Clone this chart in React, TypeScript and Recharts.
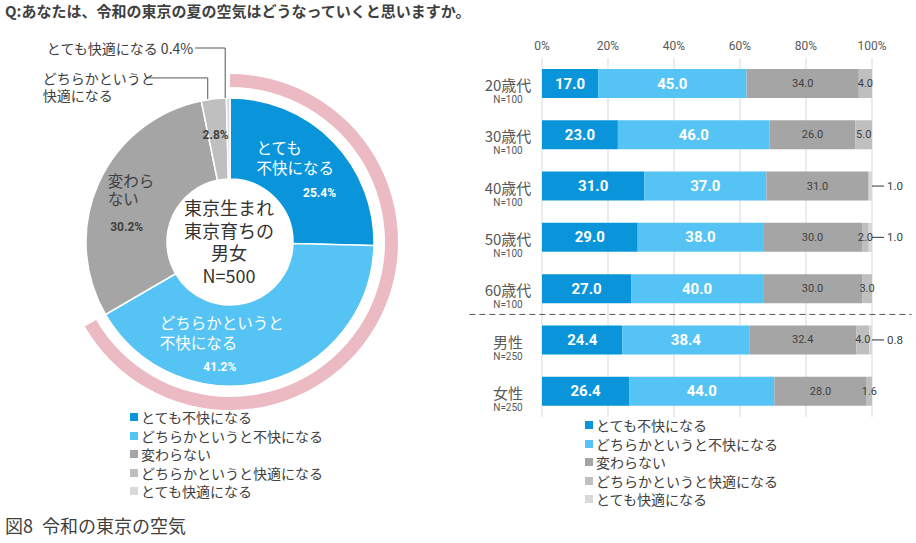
import React from 'react';
import {
  PieChart, Pie, Cell, Legend,
  BarChart, Bar, XAxis, YAxis, CartesianGrid, LabelList, ReferenceLine,
} from 'recharts';

// answer options (shared by both charts)
const answers = ['とても不快になる', 'どちらかというと不快になる', '変わらない', 'どちらかというと快適になる', 'とても快適になる'];
const colors = ['#0A95DA', '#55C4F5', '#A5A5A5', '#BFBFBF', '#D9D9D9'];

// pie: all respondents (N=500), %
const totalShares = [25.4, 41.2, 30.2, 2.8, 0.4];
const centerLines = ['東京生まれ', '東京育ちの', '男女', 'N=500'];

// bars: by age / gender, %
const groups = ['20歳代', '30歳代', '40歳代', '50歳代', '60歳代', '男性', '女性'];
const sampleSizes = ['N=100', 'N=100', 'N=100', 'N=100', 'N=100', 'N=250', 'N=250'];
const veryUncomfortable = [17.0, 23.0, 31.0, 29.0, 27.0, 24.4, 26.4];
const ratherUncomfortable = [45.0, 46.0, 37.0, 38.0, 40.0, 38.4, 44.0];
const noChange = [34.0, 26.0, 31.0, 30.0, 30.0, 32.4, 28.0];
const ratherComfortable = [4.0, 5.0, 0, 2.0, 3.0, 4.0, 1.6];
const veryComfortable = [0, 0, 1.0, 1.0, 0, 0.8, 0];
const percentTicks = [0, 20, 40, 60, 80, 100];

const pieData = answers.map((name, i) => ({ name, value: totalShares[i] }));
// pink ring around the two "uncomfortable" answers
const ringData = [
  { name: '不快', value: totalShares[0] + totalShares[1] },
  { name: 'その他', value: totalShares[2] + totalShares[3] + totalShares[4] },
];

const barData = groups.map((name, i) => ({
  name,
  a: veryUncomfortable[i],
  b: ratherUncomfortable[i],
  c: noChange[i],
  d: ratherComfortable[i],
  e: veryComfortable[i],
}));

const JP = "'Noto Sans CJK JP', sans-serif";
const NUM = "Roboto, 'Noto Sans CJK JP', sans-serif";
const TXT = '#404040';
const RAD = Math.PI / 180;

const LegendList = ({ payload }: any) => {
  const items = (payload || [])
    .filter((p: any) => answers.includes(p.value))
    .sort((x: any, y: any) => answers.indexOf(x.value) - answers.indexOf(y.value));
  return (
    <div style={{ fontFamily: JP, fontSize: 14, color: TXT }}>
      {items.map((p: any) => (
        <div key={p.value} style={{ display: 'flex', alignItems: 'center', height: 18.5 }}>
          <span style={{ width: 8, height: 8, background: colors[answers.indexOf(p.value)], marginRight: 3, display: 'inline-block' }} />
          <span>{p.value}</span>
        </div>
      ))}
    </div>
  );
};

const pieLabel = (p: any) => {
  const { cx, cy, midAngle, outerRadius, index, value } = p;
  const pt = (r: number) => ({
    x: cx + r * Math.cos(-midAngle * RAD),
    y: cy + r * Math.sin(-midAngle * RAD),
  });
  const pct = `${value.toFixed(1)}%`;
  const t = (x: number, y: number, s: string, o: any = {}) => (
    <text key={s + x} x={x} y={y} dominantBaseline="central" fontFamily={JP} fontSize={15.5} fill={TXT} {...o}>{s}</text>
  );
  const pctStyle = { fontSize: 12, fontWeight: 700, fontFamily: NUM, textAnchor: 'middle' };
  if (index === 0) {
    const c = pt(100);
    return (
      <g>
        {t(c.x - 45, c.y - 25, 'とても', { fill: '#fff' })}
        {t(c.x - 45, c.y - 5, '不快になる', { fill: '#fff' })}
        {t(c.x + 18, c.y + 21, pct, { ...pctStyle, fill: '#fff' })}
        {centerLines.map((s, i) => t(cx - 1, cy - 35 + i * 22.5, s, { fontSize: 18, fill: '#333', textAnchor: 'middle' }))}
      </g>
    );
  }
  if (index === 1) {
    const c = pt(100);
    return (
      <g>
        {t(c.x - 95, c.y - 17, 'どちらかというと', { fill: '#fff' })}
        {t(c.x - 95, c.y + 3, '不快になる', { fill: '#fff' })}
        {t(c.x - 35, c.y + 28, pct, { ...pctStyle, fill: '#fff' })}
      </g>
    );
  }
  if (index === 2) {
    const c = pt(100);
    return (
      <g>
        {t(c.x - 31, c.y - 21, '変わら')}
        {t(c.x - 31, c.y - 3, 'ない')}
        {t(c.x - 12, c.y + 26, pct, pctStyle)}
      </g>
    );
  }
  const o = pt(outerRadius);
  if (index === 3) {
    const c = pt(110);
    return (
      <g>
        {t(c.x - 2, c.y + 2, pct, pctStyle)}
        <path d={`M${o.x - 6},${o.y} V${o.y - 21} H${o.x - 66}`} stroke="#555" fill="none" />
        {t(o.x - 171, o.y - 21, 'どちらかというと', { fontSize: 14 })}
        {t(o.x - 171, o.y - 4, '快適になる', { fontSize: 14 })}
      </g>
    );
  }
  return (
    <g>
      <path d={`M${o.x - 3},${o.y} V${o.y - 50} H${o.x - 33}`} stroke="#555" fill="none" />
      {t(o.x - 35, o.y - 50, `${answers[4]} ${pct}`, { fontSize: 14, textAnchor: 'end' })}
    </g>
  );
};

const GroupTick = (p: any) => {
  const { x, y, payload } = p;
  const i = groups.indexOf(payload.value);
  return (
    <g>
      <text x={x - 26} y={y + 1} textAnchor="middle" dominantBaseline="central" fontFamily={JP} fontSize={15} fill="#595959">{payload.value}</text>
      <text x={x - 26} y={y + 16} textAnchor="middle" dominantBaseline="central" fontFamily={NUM} fontSize={10} fill="#595959">{sampleSizes[i]}</text>
    </g>
  );
};

const insideLabel = (big: boolean) => (p: any) => {
  const { x, y, width, height, value } = p;
  if (!value) return null;
  return (
    <text x={x + width / 2} y={y + height / 2} textAnchor="middle" dominantBaseline="central"
      fontFamily={NUM} fontSize={big ? 15 : 11} fontWeight={big ? 700 : 400} fill={big ? '#fff' : TXT}>
      {Number(value).toFixed(1)}
    </text>
  );
};

const outsideLabel = (p: any) => {
  const { x, y, width, height, value } = p;
  if (!value) return null;
  const ex = x + width;
  const my = y + height / 2;
  return (
    <g>
      <line x1={ex} x2={ex + 12} y1={my} y2={my} stroke="#333" />
      <text x={ex + 15} y={my} dominantBaseline="central" fontFamily={NUM} fontSize={11.5} fill={TXT}>
        {Number(value).toFixed(1)}
      </text>
    </g>
  );
};

const App: React.FC = () => {
  const keys = ['a', 'b', 'c', 'd', 'e'];
  return (
    <div style={{ position: 'absolute', left: 0, top: 0, width: 916, height: 543, background: '#fff', fontFamily: JP, overflow: 'hidden' }}>
      <div style={{ position: 'absolute', left: 5, top: 1, lineHeight: '20px', fontSize: 15, fontWeight: 700, color: TXT }}>
        Q:あなたは、令和の東京の夏の空気はどうなっていくと思いますか。
      </div>

      <div style={{ position: 'absolute', left: 0, top: 0 }}>
        <PieChart width={460} height={510}>
          <Pie data={ringData} dataKey="value" cx={225} cy={237} innerRadius={155} outerRadius={168}
            startAngle={90} endAngle={-270} stroke="none" legendType="none" isAnimationActive={false}>
            <Cell fill="#ECBAC3" />
            <Cell fill="none" />
          </Pie>
          <Pie data={pieData} dataKey="value" nameKey="name" cx={225} cy={237} innerRadius={63} outerRadius={144}
            startAngle={90} endAngle={-270} stroke="#fff" strokeWidth={1.5} label={pieLabel} labelLine={false}
            isAnimationActive={false}>
            {pieData.map((d, i) => <Cell key={d.name} fill={colors[i]} />)}
          </Pie>
          <Legend layout="vertical" align="center" verticalAlign="middle" content={LegendList}
            wrapperStyle={{ left: 130, top: 408, width: 280 }} />
        </PieChart>
      </div>

      <div style={{ position: 'absolute', left: 460, top: 0 }}>
        <BarChart width={456} height={510} data={barData} layout="vertical"
          margin={{ top: 28, right: 44, bottom: 93, left: 0 }} barSize={29}>
          <CartesianGrid horizontal={false} stroke="#D9D9D9" />
          <XAxis type="number" orientation="top" domain={[0, 100]} ticks={percentTicks}
            tickFormatter={(v: number) => `${v}%`} axisLine={false} tickLine={false}
            tick={{ fontSize: 12, fill: '#595959', fontFamily: NUM }} height={30} />
          <YAxis type="category" dataKey="name" width={82} axisLine={false} tickLine={false} tick={GroupTick} />
          {keys.map((k, i) => (
            <Bar key={k} dataKey={k} name={answers[i]} stackId="s" fill={colors[i]} isAnimationActive={false}>
              <LabelList dataKey={k} content={i === 4 ? outsideLabel : insideLabel(i < 2)} />
            </Bar>
          ))}
          <ReferenceLine segment={[{ x: -22, y: '60歳代' }, { x: 112, y: '60歳代' }]} position="end"
            ifOverflow="visible" stroke="#555" strokeDasharray="6 4" />
          <Legend layout="vertical" align="center" verticalAlign="middle" content={LegendList}
            wrapperStyle={{ left: 125, top: 416, width: 260 }} />
        </BarChart>
      </div>

      <div style={{ position: 'absolute', left: 5, top: 514, lineHeight: '22px', fontSize: 18, color: TXT }}>
        図8{'\u2002'}令和の東京の空気
      </div>
    </div>
  );
};

export default App;
